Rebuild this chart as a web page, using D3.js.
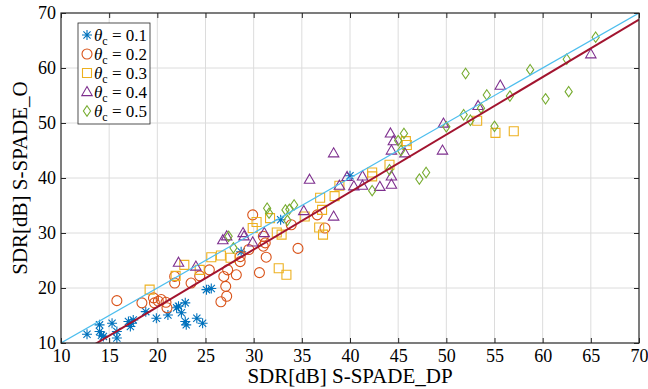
<!DOCTYPE html>
<html>
<head>
<meta charset="utf-8">
<script src="https://cdn.jsdelivr.net/npm/d3@7"></script>
<style>
  body { margin: 0; background: #fff; }
  svg { display: block; }
</style>
</head>
<body>
<svg width="648" height="389" font-family="'Liberation Serif', 'Times New Roman', serif"></svg>
<script>
const width = 648;
const height = 389;
const margin = {top: 13, right: 9, bottom: 46, left: 61};
const serif = "'Liberation Serif', 'Times New Roman', serif";

// [S-SPADE_DP, S-SPADE_O] pairs per theta_c
const theta01 = [
  [12.7, 11.6], [14.0, 13.3], [14.0, 12.1], [14.2, 11.4], [14.4, 11.2], [15.3, 13.6],
  [15.8, 12.1], [15.8, 10.9], [17.0, 13.9], [17.3, 13.6], [17.2, 13.0], [17.5, 14.2],
  [18.8, 15.7], [19.9, 14.5], [21.1, 15.1], [22.0, 16.4], [22.2, 16.7], [22.9, 17.3],
  [22.5, 15.5], [22.9, 13.9], [23.0, 13.3], [24.1, 14.5], [24.7, 13.6], [25.1, 19.7],
  [25.6, 19.9], [28.7, 26.6], [32.8, 32.4], [40.0, 40.4]
];
const theta02 = [
  [15.8, 17.7], [18.4, 17.3], [19.6, 18.2], [19.7, 17.3], [20.1, 17.6], [20.4, 17.9],
  [20.9, 17.4], [21.0, 16.4], [21.8, 22.1], [21.8, 20.9], [23.5, 20.9], [24.4, 22.2],
  [25.4, 23.3], [26.6, 17.5], [27.2, 18.5], [27.1, 20.3], [26.9, 22.1], [27.3, 23.3],
  [28.2, 22.4], [28.6, 24.8], [28.6, 25.7], [29.5, 27.0], [29.9, 33.3], [31.0, 29.4],
  [31.2, 28.2], [31.0, 27.6], [31.3, 25.6], [30.6, 22.8], [33.9, 31.5], [34.6, 27.2],
  [36.6, 33.3], [37.4, 30.9]
];
const theta03 = [
  [19.2, 19.7], [21.9, 22.2], [22.8, 24.2], [24.4, 23.3], [25.6, 25.6], [26.6, 25.9],
  [27.6, 25.5], [29.9, 30.9], [30.3, 32.0], [31.7, 32.7], [32.4, 30.1], [32.9, 29.7],
  [32.6, 23.6], [33.4, 22.4], [35.3, 33.0], [36.9, 36.4], [37.1, 34.2], [36.8, 31.0],
  [37.2, 29.7], [38.4, 36.7], [38.9, 38.6], [42.3, 41.0], [42.3, 40.3], [44.1, 42.4],
  [45.8, 46.7], [45.9, 46.0], [53.2, 50.4], [55.1, 48.2], [57.0, 48.5]
];
const theta04 = [
  [22.2, 24.6], [24.0, 23.9], [26.8, 28.7], [27.2, 29.4], [28.9, 30.0], [29.0, 29.4],
  [29.9, 28.3], [31.1, 30.0], [35.2, 34.0], [35.8, 39.7], [38.3, 44.5], [38.3, 33.0],
  [38.9, 38.6], [39.7, 40.2], [40.4, 38.5], [41.3, 40.3], [41.3, 38.6], [43.1, 38.4],
  [44.3, 40.3], [44.3, 38.8], [44.2, 48.1], [44.5, 46.7], [44.3, 45.0], [45.7, 44.5],
  [49.7, 49.9], [49.6, 45.0], [53.3, 53.1], [55.6, 56.8], [65.0, 62.5]
];
const theta05 = [
  [27.4, 29.4], [27.9, 27.3], [31.4, 34.5], [31.6, 33.6], [33.3, 34.2], [33.7, 34.3],
  [34.2, 35.1], [33.5, 32.3], [42.3, 37.7], [44.1, 41.5], [45.0, 46.8], [45.6, 48.1],
  [45.3, 45.0], [47.2, 39.8], [47.9, 41.0], [50.0, 49.3], [51.8, 51.5], [52.5, 50.5],
  [53.6, 52.7], [54.2, 55.1], [55.0, 49.4], [56.6, 54.9], [52.0, 59.0], [58.7, 59.7],
  [60.3, 54.4], [62.5, 61.6], [62.7, 55.7], [65.5, 65.6]
];

const legendLabels = ['0.1', '0.2', '0.3', '0.4', '0.5'];
const xTicks = [10, 15, 20, 25, 30, 35, 40, 45, 50, 55, 60, 65, 70];
const yTicks = [10, 20, 30, 40, 50, 60, 70];
const fitLine = {slope: 1.045, intercept: -4.35};

const series = [
  {data: theta01, color: '#0072BD', shape: 'star'},
  {data: theta02, color: '#D95319', shape: 'circle'},
  {data: theta03, color: '#EDB120', shape: 'square'},
  {data: theta04, color: '#7E2F8E', shape: 'triangle'},
  {data: theta05, color: '#77AC30', shape: 'diamond'}
];

const x = d3.scaleLinear().domain([10, 70]).range([margin.left, width - margin.right]);
const y = d3.scaleLinear().domain([10, 70]).range([height - margin.bottom, margin.top]);

const shapes = {
  star: 'M0,-5V5M-5,0H5M-3.6,-3.6L3.6,3.6M-3.6,3.6L3.6,-3.6',
  circle: d3.symbol(d3.symbolCircle, 78)(),
  square: 'M-4.5,-4.5H4.5V4.5H-4.5Z',
  triangle: 'M0,-5.5L5.2,3.6H-5.2Z',
  diamond: 'M0,-5.2L3.6,0L0,5.2L-3.6,0Z'
};

const svg = d3.select('svg');

svg.append('defs').append('clipPath').attr('id', 'clip')
  .append('rect')
  .attr('x', margin.left).attr('y', margin.top)
  .attr('width', width - margin.left - margin.right)
  .attr('height', height - margin.top - margin.bottom);

// grid
svg.append('g')
  .attr('stroke', '#dcdcdc')
  .attr('stroke-width', 1)
  .call(g => g.selectAll('.vx').data(xTicks.slice(1, -1)).join('line')
    .attr('x1', d => x(d)).attr('x2', d => x(d))
    .attr('y1', margin.top).attr('y2', height - margin.bottom))
  .call(g => g.selectAll('.hy').data(yTicks.slice(1, -1)).join('line')
    .attr('y1', d => y(d)).attr('y2', d => y(d))
    .attr('x1', margin.left).attr('x2', width - margin.right));

// markers
const plot = svg.append('g').attr('clip-path', 'url(#clip)');
series.forEach(s => {
  plot.append('g')
    .attr('fill', 'none')
    .attr('stroke', s.color)
    .attr('stroke-width', 1.1)
    .selectAll('path')
    .data(s.data)
    .join('path')
    .attr('transform', d => `translate(${x(d[0])},${y(d[1])})`)
    .attr('d', shapes[s.shape]);
});

// reference line y = x and fit line
plot.append('line')
  .attr('x1', x(10)).attr('y1', y(10)).attr('x2', x(70)).attr('y2', y(70))
  .attr('stroke', '#4DBEEE').attr('stroke-width', 1.2);

plot.append('line')
  .attr('x1', x(10)).attr('y1', y(fitLine.slope * 10 + fitLine.intercept))
  .attr('x2', x(70)).attr('y2', y(fitLine.slope * 70 + fitLine.intercept))
  .attr('stroke', '#A2142F').attr('stroke-width', 2);

// axes
const xAxis = g => g.attr('transform', `translate(0,${height - margin.bottom})`)
  .call(d3.axisBottom(x).tickValues(xTicks).tickSize(-5).tickPadding(6))
  .call(g => g.select('.domain').remove());
const yAxis = g => g.attr('transform', `translate(${margin.left},0)`)
  .call(d3.axisLeft(y).tickValues(yTicks).tickSize(-5).tickPadding(5))
  .call(g => g.select('.domain').remove());
const topTicks = g => g.attr('transform', `translate(0,${margin.top})`)
  .call(d3.axisTop(x).tickValues(xTicks).tickSize(-5).tickFormat(''))
  .call(g => g.select('.domain').remove());
const rightTicks = g => g.attr('transform', `translate(${width - margin.right},0)`)
  .call(d3.axisRight(y).tickValues(yTicks).tickSize(-5).tickFormat(''))
  .call(g => g.select('.domain').remove());

[xAxis, yAxis, topTicks, rightTicks].forEach(a => {
  svg.append('g').call(a)
    .call(g => g.selectAll('line').attr('stroke', '#262626'))
    .call(g => g.selectAll('text').attr('fill', '#000').attr('font-size', 18)
      .attr('font-family', serif));
});

svg.append('rect')
  .attr('x', margin.left).attr('y', margin.top)
  .attr('width', width - margin.left - margin.right)
  .attr('height', height - margin.top - margin.bottom)
  .attr('fill', 'none').attr('stroke', '#262626').attr('stroke-width', 1.2);

svg.append('text')
  .attr('x', (margin.left + width - margin.right) / 2)
  .attr('y', 383)
  .attr('text-anchor', 'middle')
  .attr('font-family', serif)
  .attr('font-size', 21)
  .text('SDR[dB] S-SPADE_DP');

svg.append('text')
  .attr('transform', `translate(27,${(margin.top + height - margin.bottom) / 2}) rotate(-90)`)
  .attr('text-anchor', 'middle')
  .attr('font-family', serif)
  .attr('font-size', 21)
  .text('SDR[dB] S-SPADE_O');

// legend
const legend = svg.append('g').attr('transform', 'translate(78,23)')
  .attr('font-family', serif);
legend.append('rect')
  .attr('width', 72).attr('height', 101)
  .attr('fill', '#fff').attr('stroke', '#262626').attr('stroke-width', 0.8);
const entry = legend.selectAll('g.entry')
  .data(series)
  .join('g')
  .attr('transform', (d, i) => `translate(0,${12 + i * 19})`);
entry.append('path')
  .attr('transform', 'translate(9,0)')
  .attr('d', d => shapes[d.shape])
  .attr('fill', 'none')
  .attr('stroke', d => d.color)
  .attr('stroke-width', 1.1);
const lt = entry.append('text')
  .attr('x', 16).attr('y', 6)
  .attr('font-family', serif)
  .attr('font-size', 17);
lt.append('tspan').attr('font-style', 'italic').text('θ');
lt.append('tspan').attr('font-size', 12).attr('dy', 4).text('c');
lt.append('tspan').attr('dy', -4).text((d, i) => ' = ' + legendLabels[i]);
</script>
</body>
</html>
